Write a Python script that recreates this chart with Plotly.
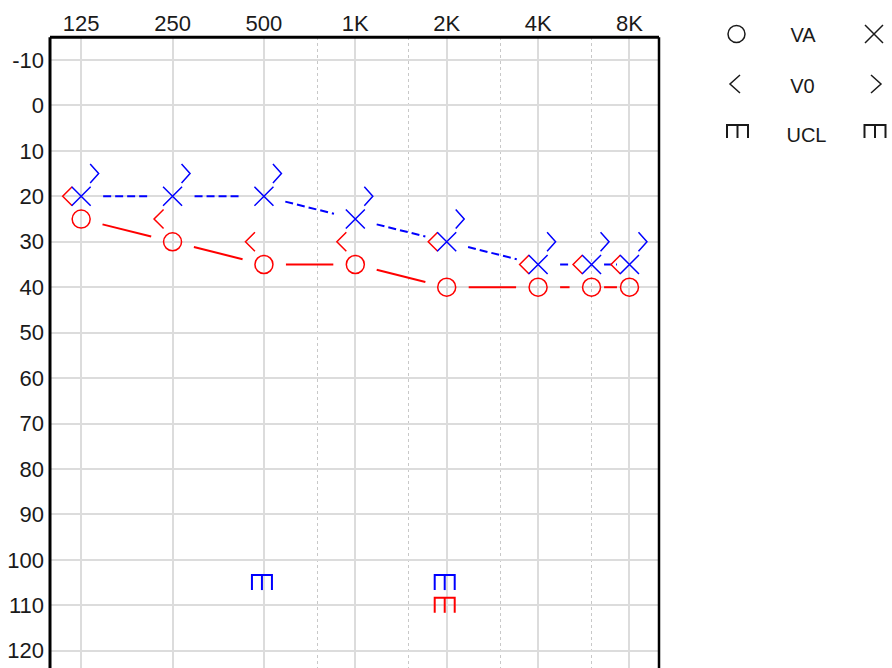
import math
import plotly.graph_objects as go

# ---------------- data ----------------
freqs = [125, 250, 500, 1000, 2000, 4000, 6000, 8000]
right_air = [25, 30, 35, 35, 40, 40, 40, 40]      # red O  (VA)
right_bone = [20, 25, 30, 30, 30, 35, 35, 35]     # red <  (V0)
left_air = [20, 20, 20, 25, 30, 35, 35, 35]       # blue X (VA)
left_bone = [15, 15, 15, 20, 25, 30, 30, 30]      # blue > (V0)
ucl_left_freqs = [500, 2000]
ucl_left = [105, 105]
ucl_right_freqs = [2000]
ucl_right = [110]
tick_freqs = [125, 250, 500, 1000, 2000, 4000, 8000]
tick_labels = ["125", "250", "500", "1K", "2K", "4K", "8K"]
half_octave_freqs = [750, 1500, 3000, 6000]
db_ticks = list(range(-10, 121, 10))
legend_labels = ["VA", "V0", "UCL"]

# ---------------- geometry / style ----------------
W, H = 892, 668
PLOT_L, PLOT_R, PLOT_T = 50, 659, 37.3
X_RANGE = [-0.341, 6.323]
Y_RANGE = [123.8, -15]
PX_X = (PLOT_R - PLOT_L) / (X_RANGE[1] - X_RANGE[0])
PX_Y = (H - PLOT_T) / (Y_RANGE[0] - Y_RANGE[1])

RED = "rgb(255,0,0)"
BLUE = "rgb(0,0,255)"
BLACK = "#1a1a1a"
TICK_FONT = "Liberation Sans"
LEG_FONT = "Liberation Sans"


def oct_pos(f):
    return math.log2(f / 125.0)


def gapped(xs, ys, sx, sy, gap=22, min_len=45, frac=0.33):
    X, Y = [], []
    for i in range(len(xs) - 1):
        ddx, ddy = xs[i + 1] - xs[i], ys[i + 1] - ys[i]
        L = math.hypot(ddx * sx, ddy * sy)
        g = gap if L > min_len else L * frac
        t0, t1 = g / L, 1 - g / L
        X += [xs[i] + ddx * t0, xs[i] + ddx * t1, None]
        Y += [ys[i] + ddy * t0, ys[i] + ddy * t1, None]
    return X, Y


def chevrons(xs, ys, direction, near, far, half_h, sx, sy):
    X, Y = [], []
    for x, y in zip(xs, ys):
        X += [x + direction * near / sx, x + direction * far / sx, x + direction * near / sx, None]
        Y += [y - half_h / sy, y, y + half_h / sy, None]
    return X, Y


def ucl_marks(xs, ys, half_w, half_h, sx, sy, xoff=0.0):
    X, Y = [], []
    for x, y in zip(xs, ys):
        c = x + xoff / sx
        l, r = c - half_w / sx, c + half_w / sx
        top, bot = y - half_h / sy, y + half_h / sy
        X += [l, l, r, r, None, c, c, None]
        Y += [bot, top, top, bot, None, top, bot, None]
    return X, Y


fx = [oct_pos(f) for f in freqs]

fig = go.Figure()

# connecting lines
rx, ry = gapped(fx, right_air, PX_X, PX_Y)
fig.add_trace(go.Scatter(x=rx, y=ry, mode="lines", line=dict(color=RED, width=2),
                         hoverinfo="skip"))
bx, by = gapped(fx, left_air, PX_X, PX_Y)
fig.add_trace(go.Scatter(x=bx, y=by, mode="lines",
                         line=dict(color=BLUE, width=2, dash="8px,4px"), hoverinfo="skip"))

# right bone "<"
cx, cy = chevrons(fx, right_bone, -1, 9, 18.5, 9.5, PX_X, PX_Y)
fig.add_trace(go.Scatter(x=cx, y=cy, mode="lines", line=dict(color=RED, width=1.5),
                         hoverinfo="skip"))
# left bone ">"
cx, cy = chevrons(fx, left_bone, 1, 9, 17.5, 9.5, PX_X, PX_Y)
fig.add_trace(go.Scatter(x=cx, y=cy, mode="lines", line=dict(color=BLUE, width=1.5),
                         hoverinfo="skip"))

# right air O
fig.add_trace(go.Scatter(x=fx, y=right_air, mode="markers",
                         marker=dict(symbol="circle-open", size=18, color=RED,
                                     line=dict(color=RED, width=1.5))))
# left air X
fig.add_trace(go.Scatter(x=fx, y=left_air, mode="markers",
                         marker=dict(symbol="x-thin-open", size=19, color=BLUE,
                                     line=dict(color=BLUE, width=1.5))))

# UCL marks
ux, uy = ucl_marks([oct_pos(f) for f in ucl_left_freqs], ucl_left, 10, 7.5, PX_X, PX_Y, xoff=-2)
fig.add_trace(go.Scatter(x=ux, y=uy, mode="lines", line=dict(color=BLUE, width=2),
                         hoverinfo="skip"))
ux, uy = ucl_marks([oct_pos(f) for f in ucl_right_freqs], ucl_right, 10, 7.5, PX_X, PX_Y, xoff=-2)
fig.add_trace(go.Scatter(x=ux, y=uy, mode="lines", line=dict(color=RED, width=2),
                         hoverinfo="skip"))

# ---------------- legend (own pixel-unit axes) ----------------
LX_L, LX_R = 736.5, 874
ROWS = [34, 84, 131.5]
fig.add_trace(go.Scatter(x=[LX_L], y=[ROWS[0]], mode="markers", xaxis="x2", yaxis="y2",
                         marker=dict(symbol="circle-open", size=17, color=BLACK,
                                     line=dict(color=BLACK, width=1.5))))
fig.add_trace(go.Scatter(x=[LX_R], y=[ROWS[0]], mode="markers", xaxis="x2", yaxis="y2",
                         marker=dict(symbol="x-thin-open", size=18, color=BLACK,
                                     line=dict(color=BLACK, width=1.5))))
lx1, ly1 = chevrons([LX_L - 1.5], [ROWS[1]], -1, -5, 5, 9, 1, 1)
lx2, ly2 = chevrons([LX_R + 2], [ROWS[1]], 1, -5, 5, 9, 1, 1)
fig.add_trace(go.Scatter(x=lx1 + lx2, y=ly1 + ly2, mode="lines", xaxis="x2", yaxis="y2",
                         line=dict(color=BLACK, width=1.5), hoverinfo="skip"))
lux, luy = ucl_marks([LX_L + 1, LX_R + 1], [ROWS[2], ROWS[2]], 10.5, 6.5, 1, 1)
fig.add_trace(go.Scatter(x=lux, y=luy, mode="lines", xaxis="x2", yaxis="y2",
                         line=dict(color=BLACK, width=2), hoverinfo="skip"))
fig.add_trace(go.Scatter(x=[803, 802.5, 806.5], y=[36.5, 87.5, 136.6], mode="text",
                         text=legend_labels, xaxis="x2", yaxis="y2",
                         textfont=dict(family=LEG_FONT, size=20, color=BLACK),
                         textposition="middle center", hoverinfo="skip"))

# ---------------- layout ----------------
tick_font = dict(family=TICK_FONT, size=22, color=BLACK)
fig.update_layout(
    width=W, height=H,
    margin=dict(l=0, r=0, t=0, b=0),
    paper_bgcolor="white", plot_bgcolor="white",
    showlegend=False,
    xaxis=dict(domain=[PLOT_L / W, PLOT_R / W], range=X_RANGE, side="top",
               tickmode="array", tickvals=[oct_pos(f) for f in tick_freqs], ticktext=tick_labels,
               showgrid=True, gridcolor="#dcdcdc", gridwidth=2, zeroline=False, showline=False,
               ticks="", tickfont=tick_font, fixedrange=True, ticklabelstandoff=1,
               minor=dict(tickvals=[oct_pos(f) for f in half_octave_freqs], showgrid=True,
                          gridcolor="#c8c8c8", griddash="dot", gridwidth=1)),
    yaxis=dict(domain=[0, (H - PLOT_T) / H], range=Y_RANGE,
               tickmode="array", tickvals=db_ticks, ticktext=[str(v) for v in db_ticks],
               showgrid=True, gridcolor="#dcdcdc", gridwidth=2, zeroline=False, showline=False,
               ticks="", tickfont=tick_font, fixedrange=True, ticklabelstandoff=5),
    xaxis2=dict(domain=[700 / W, 1], range=[700, 892], visible=False, anchor="y2",
                fixedrange=True),
    yaxis2=dict(domain=[1 - 160 / H, 1], range=[160, 0], visible=False, anchor="x2",
                fixedrange=True),
    shapes=[
        dict(type="line", xref="x domain", yref="y domain", x0=0, x1=0, y0=0, y1=1,
             line=dict(color="black", width=3), layer="above"),
        dict(type="line", xref="x domain", yref="y domain", x0=0, x1=1, y0=1, y1=1,
             line=dict(color="black", width=3), layer="above"),
        dict(type="line", xref="x domain", yref="y domain", x0=1, x1=1, y0=0, y1=1,
             line=dict(color="black", width=2.5), layer="above"),
    ],
)

fig.write_html("out.html")
